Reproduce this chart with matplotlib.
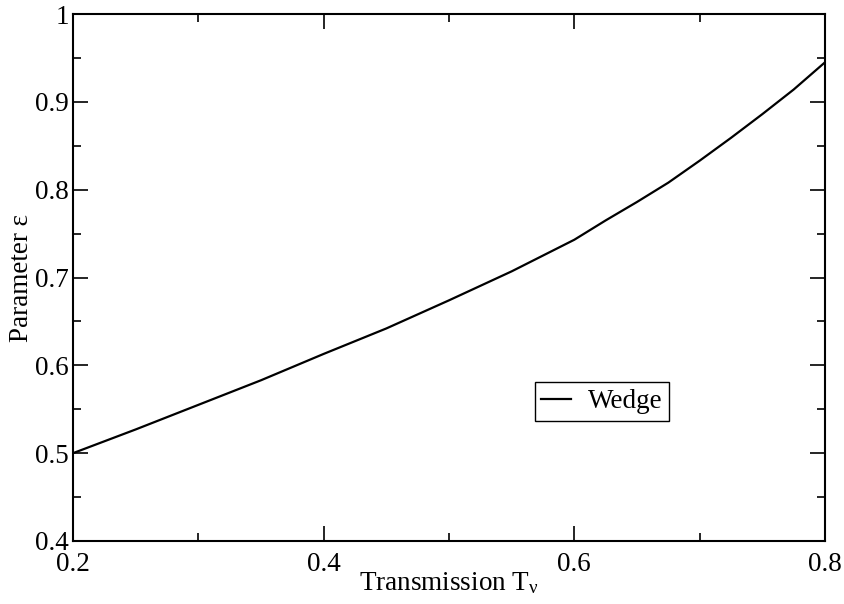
import numpy as np
import matplotlib.pyplot as plt
from matplotlib.ticker import MultipleLocator, FormatStrFormatter

# Values
transmission = [0.20, 0.25, 0.30, 0.35, 0.40, 0.45, 0.50, 0.55, 0.60, 0.625, 0.65,
                0.675, 0.70, 0.725, 0.75, 0.775, 0.80]
epsilon = [0.500, 0.527, 0.555, 0.583, 0.613, 0.642, 0.674, 0.707, 0.743, 0.765, 0.786,
           0.808, 0.833, 0.859, 0.886, 0.914, 0.945]

plt.rcParams['font.family'] = ['Liberation Serif', 'DejaVu Serif']
plt.rcParams['mathtext.fontset'] = 'custom'
plt.rcParams['mathtext.rm'] = 'Liberation Serif'
plt.rcParams['mathtext.it'] = 'Liberation Serif:italic'

fs = 19.5

fig = plt.figure(figsize=(8.44, 6.04), dpi=100)
ax = fig.add_axes([73 / 844, 1 - 541 / 604, 752 / 844, 527 / 604])

ax.plot(transmission, epsilon, color='black', lw=1.6, label='Wedge')

ax.set_xlim(0.2, 0.8)
ax.set_ylim(0.4, 1.0)
ax.xaxis.set_major_locator(MultipleLocator(0.2))
ax.xaxis.set_minor_locator(MultipleLocator(0.1))
ax.yaxis.set_major_locator(MultipleLocator(0.1))
ax.yaxis.set_minor_locator(MultipleLocator(0.05))
ax.xaxis.set_major_formatter(FormatStrFormatter('%g'))
ax.yaxis.set_major_formatter(FormatStrFormatter('%g'))

ax.tick_params(which='both', direction='in', top=True, right=True, labelsize=fs, width=1.2, color='black')
ax.tick_params(which='major', length=11, pad=3)
ax.tick_params(which='minor', length=6)
ax.tick_params(axis='x', which='major', pad=8)
for s in ax.spines.values():
    s.set_linewidth(1.5)

ax.set_xlabel(r'Transmission T$_\mathregular{ν}$', fontsize=fs, labelpad=-5)
ax.set_ylabel('Parameter ε', fontsize=fs, labelpad=1)

leg = ax.legend(loc='lower left', bbox_to_anchor=(0.614, 0.228), borderaxespad=0,
                fancybox=False, edgecolor='black', framealpha=1, fontsize=fs,
                handlelength=1.1, handletextpad=0.6, borderpad=0.25)
leg.get_frame().set_linewidth(1.0)

fig.savefig('out.png', dpi=100)
